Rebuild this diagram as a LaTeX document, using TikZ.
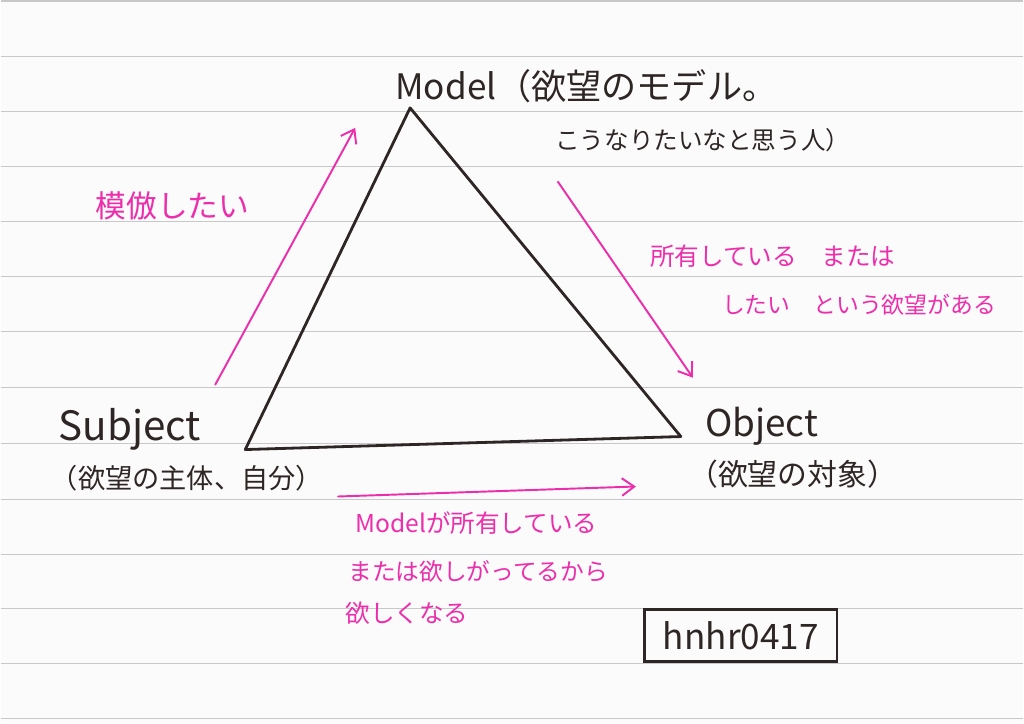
\documentclass[tikz,border=0pt]{standalone}
\usepackage{fontspec}
\setmainfont{Noto Sans CJK JP}
\usetikzlibrary{arrows.meta}
\definecolor{paper}{RGB}{252,251,251}
\definecolor{rulegray}{RGB}{200,200,202}
\definecolor{inkblack}{RGB}{45,38,36}
\definecolor{pinkink}{RGB}{236,46,172}
\newcommand\fsz[1]{\fontsize{#1}{#1}\selectfont}

\begin{document}
\begin{tikzpicture}[x=0.02cm,y=-0.02cm,
  ink/.style={text=inkblack,inner sep=0pt,anchor=west},
  marker/.style={text=pinkink,inner sep=0pt,anchor=west},
  pinkarrow/.style={draw=pinkink,line width=1.1pt,line cap=round,-{Straight Barb[length=7pt,width=10pt]}}]

% Paper
\fill[paper] (0,0) rectangle (1024,724);
\foreach \y in {1,57,112,167,222,277,332,388,444,500,555,609,664,719}
  \draw[rulegray,line width=0.6pt] (0,\y) -- (1024,\y);

% Triangle
\coordinate (model) at (410,108);
\coordinate (subject) at (245,450);
\coordinate (object) at (681,437);
\draw[inkblack,line width=1.6pt,line join=round] (subject) -- (model) -- (object) -- cycle;

% Model
\node[ink,font=\fsz{20}] (modeltop) at (395,86) {Model（欲望のモデル。};
\node[ink,font=\fsz{14}] (modelsub) at (555,140) {こうなりたいなと思う人）};

% Subject
\node[ink,font=\fsz{23}] (subjtop) at (58,430) {Subject};
\node[ink,font=\fsz{15.5}] (subjsub) at (50,479) {（欲望の主体、自分）};

% Object
\node[ink,font=\fsz{21}] (objtop) at (705,427) {Object};
\node[ink,font=\fsz{17}] (objsub) at (688,475) {（欲望の対象）};

% Pink arrows
\coordinate (imitate s) at (215,385);
\coordinate (imitate e) at (355,128);
\draw[pinkarrow] (imitate s) -- (imitate e);
\coordinate (own s) at (558,182);
\coordinate (own e) at (693,378);
\draw[pinkarrow] (own s) -- (own e);
\coordinate (want s) at (338,497);
\coordinate (want e) at (636,487);
\draw[pinkarrow] (want s) -- (want e);

% Pink notes
\node[marker,font=\fsz{17.5}] (imitate) at (95,206) {模倣したい};
\node[marker,font=\fsz{14}] (own1) at (650,256) {所有している　または};
\node[marker,font=\fsz{13}] (own2) at (722,305) {したい　という欲望がある};
\node[marker,font=\fsz{14}] (want1) at (355,524) {Modelが所有している};
\node[marker,font=\fsz{13.5}] (want2) at (348,572) {または欲しがってるから};
\node[marker,font=\fsz{14}] (want3) at (345,614) {欲しくなる};

% Signature
\node[draw=inkblack,line width=1.4pt,text=inkblack,font=\fsz{20},
  minimum width=3.86cm,minimum height=1.04cm] (sign) at (741,636) {hnhr0417};

\end{tikzpicture}
\end{document}
